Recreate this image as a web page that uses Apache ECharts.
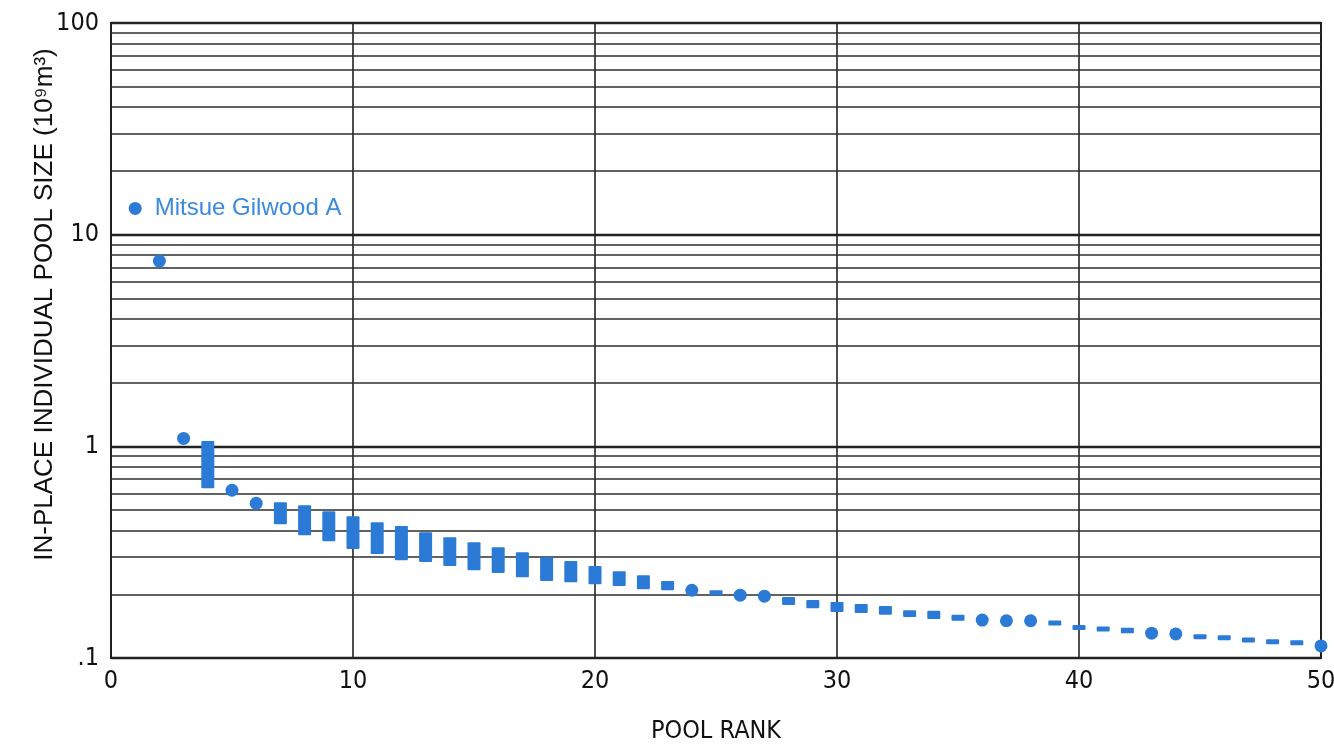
<!DOCTYPE html>
<html>
<head>
<meta charset="utf-8">
<script src="https://cdn.jsdelivr.net/npm/echarts@6/dist/echarts.min.js"></script>
<style>
html,body{margin:0;padding:0;background:#fff;}
#chart{width:1334px;height:744px;}
</style>
</head>
<body>
<div id="chart"></div>
<script>
// Single pools drawn as dots
const dotRanks  = [1, 2, 3, 5, 6, 24, 26, 27, 36, 37, 38, 43, 44, 50];
const dotSizes  = [13.3, 7.5, 1.09, 0.62, 0.538, 0.209, 0.198, 0.196, 0.151, 0.15, 0.15, 0.131, 0.13, 0.114];
const dotLabels = ['Mitsue Gilwood A', '', '', '', '', '', '', '', '', '', '', '', '', ''];

// Pools drawn as range bars (upper / lower size)
const barRanks = [4, 7, 8, 9, 10, 11, 12, 13, 14, 15, 16, 17, 18, 19, 20, 21, 22, 23, 25,
                  28, 29, 30, 31, 32, 33, 34, 35, 39, 40, 41, 42, 45, 46, 47, 48, 49];
const barHigh  = [1.06, 0.544, 0.527, 0.493, 0.468, 0.438, 0.42, 0.393, 0.372, 0.352, 0.334, 0.316, 0.299, 0.287, 0.272, 0.257, 0.246, 0.231, 0.209,
                  0.194, 0.188, 0.184, 0.18, 0.176, 0.168, 0.167, 0.16, 0.15, 0.143, 0.14, 0.139, 0.128, 0.127, 0.124, 0.122, 0.12];
const barLow   = [0.634, 0.429, 0.38, 0.356, 0.327, 0.31, 0.29, 0.284, 0.272, 0.26, 0.252, 0.241, 0.231, 0.228, 0.223, 0.219, 0.211, 0.209, 0.198,
                  0.178, 0.172, 0.165, 0.163, 0.16, 0.156, 0.153, 0.15, 0.143, 0.136, 0.134, 0.131, 0.124, 0.122, 0.119, 0.117, 0.116];

// Axis ticks
const xTicks = [0, 10, 20, 30, 40, 50];
const yMajor = [0.1, 1, 10, 100];
const yMinor = [0.2, 0.3, 0.4, 0.5, 0.6, 0.7, 0.8, 0.9, 2, 3, 4, 5, 6, 7, 8, 9, 20, 30, 40, 50, 60, 70, 80, 90];

const xTitle = 'POOL RANK';
const yTitle = 'IN-PLACE INDIVIDUAL POOL SIZE (10⁹m³)';

const BLUE = '#2b7bd6';
const FONT = "'Liberation Sans Narrow', 'DejaVu Sans Condensed', 'Liberation Sans', sans-serif";
const FONT_WIDE = "'Liberation Sans', Arial, sans-serif";
const INK = '#111111';

const chart = echarts.init(document.getElementById('chart'), null, {renderer: 'canvas'});

const dotData = dotRanks.map((r, i) => ({
  value: [r, dotSizes[i]],
  label: dotLabels[i] ? {show: true, formatter: dotLabels[i]} : {show: false}
}));
const barData = barRanks.map((r, i) => [r, barLow[i], barHigh[i]]);

chart.setOption({
  backgroundColor: '#ffffff',
  animation: false,
  grid: {
    left: 111, right: 13, top: 23, bottom: 86,
    outerBoundsMode: 'none',
    containLabel: false,
    show: true, borderColor: '#1a1a1a', borderWidth: 2, backgroundColor: 'transparent'
  },
  xAxis: {
    type: 'value',
    min: xTicks[0], max: xTicks[xTicks.length - 1], interval: 10,
    name: xTitle, nameLocation: 'middle', nameGap: 61, nameMoveOverlap: false,
    nameTextStyle: {fontFamily: FONT, fontSize: 25, color: INK},
    axisLine: {show: false},
    axisTick: {show: false},
    axisLabel: {fontFamily: FONT, fontSize: 25, color: INK, margin: 11},
    splitLine: {show: true, lineStyle: {color: '#222', width: 1.6}}
  },
  yAxis: {
    type: 'log', logBase: 10,
    min: yMajor[0], max: yMajor[yMajor.length - 1],
    name: yTitle, nameLocation: 'middle', nameGap: 53, nameMoveOverlap: false,
    nameTextStyle: {fontFamily: FONT_WIDE, fontSize: 26, color: INK, padding: [0, 0, 0, 72]},
    axisLine: {show: false},
    axisTick: {show: false},
    axisLabel: {
      fontFamily: FONT, fontSize: 25, color: INK, margin: 12,
      formatter: v => v < 0.5 ? '.1' : String(Math.round(v))
    },
    splitLine: {show: true, lineStyle: {color: '#222', width: 2.4}}
  },
  series: [
    {
      type: 'custom',
      z: 3,
      renderItem: function (params, api) {
        const x = api.value(0);
        const lo = api.coord([x, api.value(1)]);
        const hi = api.coord([x, api.value(2)]);
        const w = 13;
        let top = hi[1], h = lo[1] - hi[1];
        if (h < 5) { top -= (5 - h) / 2; h = 5; }
        return {
          type: 'rect',
          shape: {x: lo[0] - w / 2, y: top, width: w, height: h, r: 1},
          style: {fill: BLUE}
        };
      },
      encode: {x: 0, y: [1, 2]},
      data: barData
    },
    {
      type: 'scatter',
      z: 3,
      symbol: 'circle',
      symbolSize: 13,
      itemStyle: {color: BLUE, opacity: 1},
      label: {
        position: 'right', distance: 13,
        fontFamily: FONT_WIDE, fontSize: 24, color: '#3a8ae0'
      },
      data: dotData,
      markLine: {
        silent: true, symbol: 'none', z: 1,
        label: {show: false},
        lineStyle: {color: '#2e2e2e', width: 1.5, type: 'solid'},
        emphasis: {disabled: true},
        data: yMinor.map(v => ({yAxis: v}))
      }
    }
  ]
});
</script>
</body>
</html>
